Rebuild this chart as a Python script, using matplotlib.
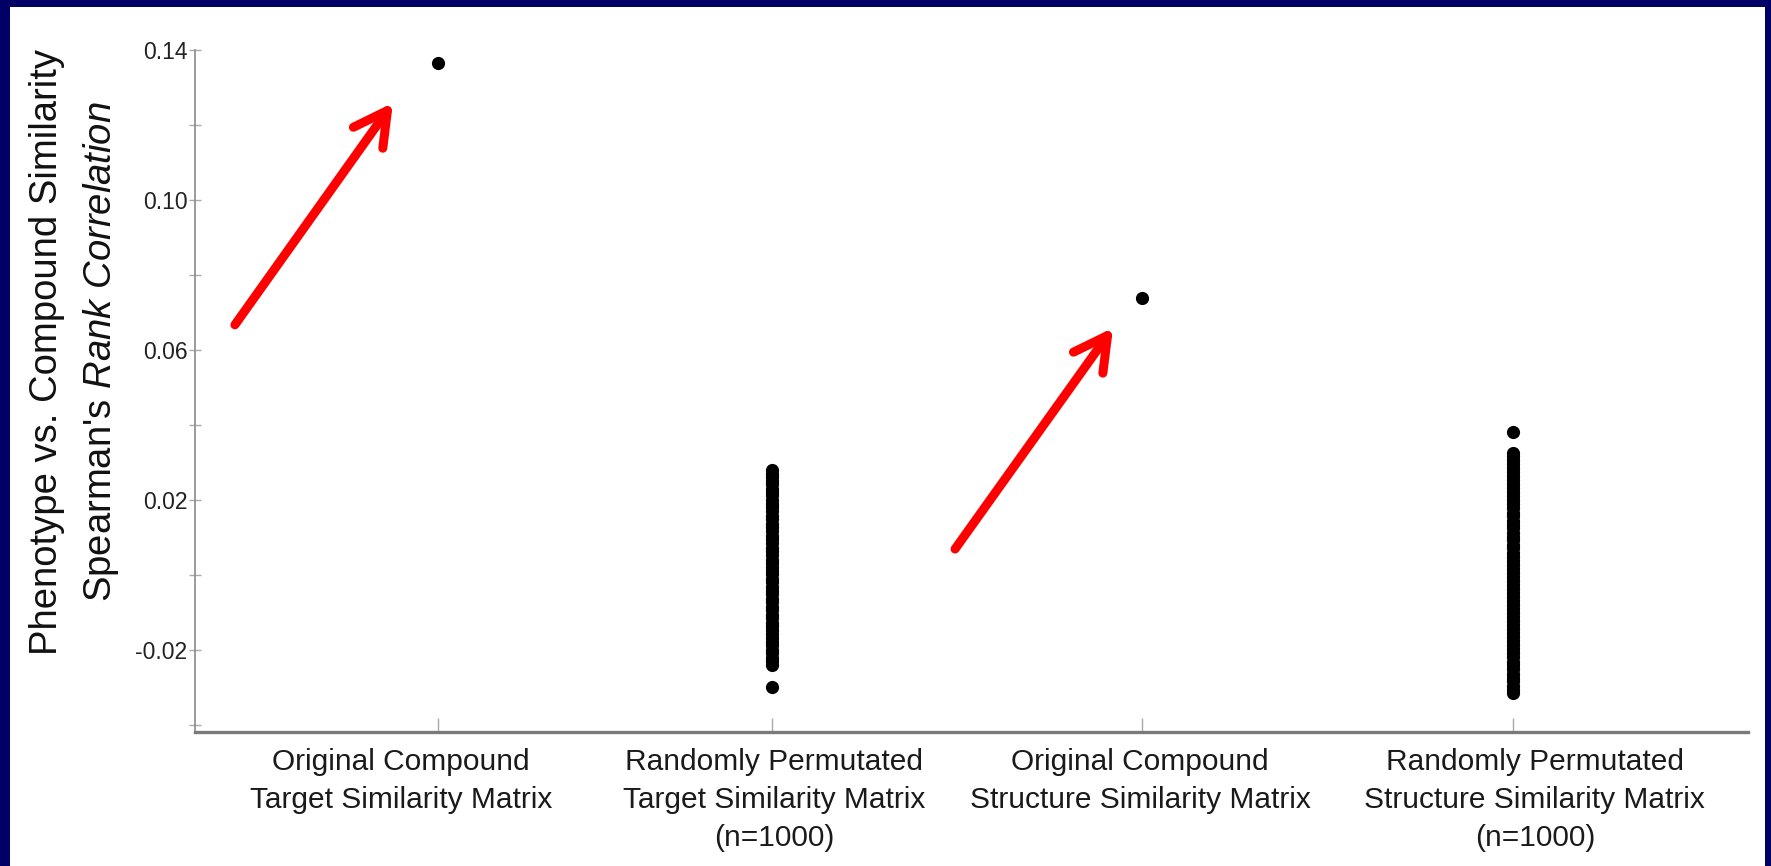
import matplotlib
matplotlib.use("Agg")
import matplotlib.pyplot as plt
from matplotlib.patches import Rectangle
from matplotlib.transforms import blended_transform_factory

plt.rcParams['font.family'] = ['Liberation Sans', 'DejaVu Sans']
plt.rcParams['mathtext.fontset'] = 'custom'
plt.rcParams['mathtext.rm'] = 'Liberation Sans'
plt.rcParams['mathtext.it'] = 'Liberation Sans:italic'

# data
categories = ["Original Compound\nTarget Similarity Matrix",
              "Randomly Permutated\nTarget Similarity Matrix\n(n=1000)",
              "Original Compound\nStructure Similarity Matrix",
              "Randomly Permutated\nStructure Similarity Matrix\n(n=1000)"]

original_target = [0.1365]
original_structure = [0.0739]

perm_target = [0.0280, 0.0268, 0.0262, 0.0251, 0.0243, 0.0230, 0.0221, 0.0212,
               0.0200, 0.0189, 0.0181, 0.0170, 0.0158, 0.0149, 0.0137, 0.0128,
               0.0116, 0.0105, 0.0097, 0.0084, 0.0073, 0.0065, 0.0052, 0.0041,
               0.0033, 0.0021, 0.0010, 0.0002, -0.0011, -0.0020, -0.0031, -0.0043,
               -0.0052, -0.0064, -0.0073, -0.0085, -0.0094, -0.0106, -0.0115, -0.0127,
               -0.0136, -0.0148, -0.0157, -0.0168, -0.0179, -0.0188, -0.0200, -0.0209,
               -0.0221, -0.0230, -0.0240, -0.0299]

perm_structure = [0.0381, 0.0325, 0.0316, 0.0307, 0.0296, 0.0284, 0.0275, 0.0263,
                  0.0252, 0.0243, 0.0231, 0.0220, 0.0210, 0.0199, 0.0188, 0.0178,
                  0.0166, 0.0157, 0.0145, 0.0134, 0.0124, 0.0113, 0.0102, 0.0092,
                  0.0080, 0.0071, 0.0059, 0.0048, 0.0038, 0.0027, 0.0016, 0.0006,
                  -0.0005, -0.0016, -0.0027, -0.0037, -0.0048, -0.0059, -0.0070, -0.0080,
                  -0.0091, -0.0102, -0.0112, -0.0123, -0.0134, -0.0145, -0.0155, -0.0166,
                  -0.0177, -0.0188, -0.0198, -0.0209, -0.0220, -0.0231, -0.0241, -0.0252,
                  -0.0263, -0.0274, -0.0284, -0.0295, -0.0306, -0.0315]

yticks = [-0.04, -0.02, 0.00, 0.02, 0.04, 0.06, 0.08, 0.10, 0.12, 0.14]
ytick_labels = ["", "-0.02", "", "0.02", "", "0.06", "", "0.10", "", "0.14"]

# layout
x_pos = [1.0, 2.0, 3.108, 4.219]
label_x = [0.889, 2.006, 3.102, 4.284]
arrows = [((0.392, 0.0667), (0.865, 0.1259)),
          ((2.548, 0.0069), (3.021, 0.0659))]

fig = plt.figure(figsize=(17.71, 8.66), dpi=100)
fig.patch.set_facecolor('#000066')
fig.patches.append(Rectangle((10 / 1771, 0), 1755 / 1771, 859 / 866,
                             transform=fig.transFigure, facecolor='white',
                             edgecolor='none', zorder=-10))

ax = fig.add_axes([195 / 1771, 1 - 732 / 866, 1553 / 1771, 682 / 866])
ax.set_facecolor('none')

ax.plot([x_pos[0]] * len(original_target), original_target, 'o', color='black', ms=9.5, mew=0)
ax.plot([x_pos[1]] * len(perm_target), perm_target, 'o', color='black', ms=9.5, mew=0)
ax.plot([x_pos[2]] * len(original_structure), original_structure, 'o', color='black', ms=9.5, mew=0)
ax.plot([x_pos[3]] * len(perm_structure), perm_structure, 'o', color='black', ms=9.5, mew=0)

for tail, tip in arrows:
    ax.annotate("", xy=tip, xytext=tail,
                arrowprops=dict(arrowstyle='->,head_length=1.2,head_width=0.65',
                                color='#ff0000', lw=6.5, mutation_scale=20,
                                shrinkA=0, shrinkB=0, capstyle='round',
                                joinstyle='round'))

ax.set_xlim(0.2725, 4.922)
ax.set_ylim(-0.0419, 0.14)

for side in ['top', 'right']:
    ax.spines[side].set_visible(False)
ax.spines['left'].set_color('#8a8a8a')
ax.spines['left'].set_linewidth(1.2)
ax.spines['bottom'].set_color('#7a7a7a')
ax.spines['bottom'].set_linewidth(2.4)

ax.set_yticks(yticks)
ax.set_yticklabels(ytick_labels)
ax.tick_params(axis='y', direction='inout', length=8, width=1, color='#aaaaaa',
               labelsize=16.5, labelcolor='#222222', pad=1.5)
ax.set_xticks(x_pos)
ax.set_xticklabels([])
ax.tick_params(axis='x', direction='in', length=10, width=1, color='#aaaaaa')

trans = blended_transform_factory(ax.transData, ax.transAxes)
for lx, lab in zip(label_x, categories):
    ax.text(lx, -0.024, lab, transform=trans, ha='center', va='top',
            fontsize=21.5, color='#1a1a1a', linespacing=1.45)

fig.text(75 / 1771, 1 - 352 / 866,
         "Phenotype vs. Compound Similarity\nSpearman's $\\it{Rank\\ Correlation}$",
         rotation=90, ha='center', va='center', multialignment='center',
         fontsize=27.5, color='#111111', linespacing=1.55)

fig.savefig("out.png", dpi=100, facecolor=fig.get_facecolor())
